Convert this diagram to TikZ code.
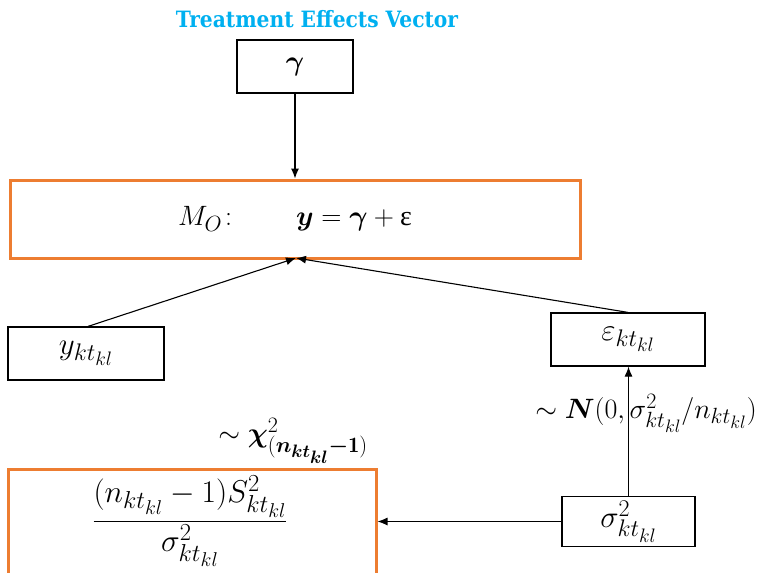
\RequirePackage{fix-cm}
\documentclass[tikz,border=0pt]{standalone}
\usepackage{amsmath,bm}
\usepackage{fontspec}
\newfontfamily\titlefont{DejaVu Serif Condensed}
\newfontfamily\grkfont{Liberation Serif}
\DeclareMathSizes{28}{28}{22}{18}
\DeclareMathSizes{31}{31}{24}{19.5}
\DeclareMathSizes{31.5}{31.5}{24.5}{20}
\usetikzlibrary{arrows.meta}
\definecolor{orng}{HTML}{ED7D31}
\definecolor{cyanT}{HTML}{00B0F0}
\tikzset{
  thinbox/.style={draw=black, line width=1.2pt, inner sep=0pt},
  orbox/.style={draw=orng, line width=3pt, inner sep=0pt},
  conn/.style={line width=1.1pt, -{Latex[length=10pt,width=8pt]}},
  txt/.style={inner sep=0pt, font=\fontsize{28}{32}\selectfont},
  bigtxt/.style={inner sep=0pt, font=\fontsize{31}{35}\selectfont},
  fractxt/.style={inner sep=0pt, font=\fontsize{31.5}{36}\selectfont}
}
\begin{document}
\begin{tikzpicture}[x=1pt,y=-1pt]
\useasboundingbox (0,0) rectangle (769,573);
\node[font=\titlefont\bfseries\fontsize{22.5}{26}\selectfont, text=cyanT, inner sep=0pt] (title) at (317,19) {Treatment Effects Vector};
\node[thinbox, minimum width=116pt, minimum height=53pt, txt] (g) at (295,66.5) {$\bm{\gamma}$};
\node[orbox, minimum width=570pt, minimum height=78pt, txt] (m) at (295,219) {$M_O\!:\qquad \bm{y} = \bm{\gamma} + \text{\grkfont ε}$};
\node[thinbox, minimum width=156pt, minimum height=53pt, bigtxt] (y) at (86,353.5) {$y_{kt_{kl}}$};
\node[thinbox, minimum width=154pt, minimum height=53pt, bigtxt] (e) at (628,339.5) {$\varepsilon_{kt_{kl}}$};
\node[orbox, minimum width=368pt, minimum height=112pt] (c) at (192,525) {};
\node[fractxt] (ct) at (190,521) {$\dfrac{(n_{kt_{kl}}-1)S^2_{kt_{kl}}}{\sigma^2_{kt_{kl}}}$};
\node[thinbox, minimum width=133pt, minimum height=50pt, bigtxt] (s) at (628.5,521.5) {$\sigma^2_{kt_{kl}}$};
\node[txt] (nl) at (646,413) {$\sim \bm{N}(0,\sigma^2_{kt_{kl}}/n_{kt_{kl}})$};
\node[txt] (cl) at (293,441) {$\sim \bm{\chi}^2_{(\bm{n_{kt_{kl}}}\bm{-}\mathbf{1})}$};
\coordinate (mb) at (296,258);
\draw[conn] (g.south) -- (m.north -| g.south);
\draw[conn] (y.north) ++(2,0) -- (mb);
\draw[conn] (e.north) -- (mb);
\draw[conn] (s.north) -- (e.south -| s.north);
\draw[conn] (s.west) -- (s.west -| c.east);
\end{tikzpicture}
\end{document}
